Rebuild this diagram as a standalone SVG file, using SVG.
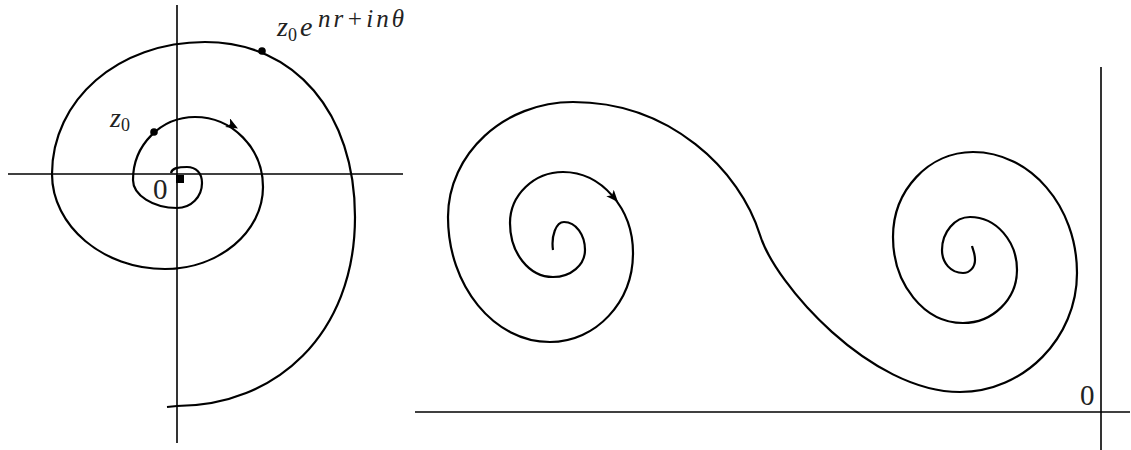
<svg xmlns="http://www.w3.org/2000/svg" width="1131" height="450" viewBox="0 0 1131 450">
<style>
.axis{stroke:#000;stroke-width:1.6;fill:none}
.curve{stroke:#000;stroke-width:2.2;fill:none;stroke-linecap:butt;stroke-linejoin:round}
.lbl{font-family:"Liberation Serif","Times New Roman",serif;fill:#222}
.it{font-style:italic}
.dot{fill:#000}
</style>
<defs>
<marker id="ah" markerUnits="userSpaceOnUse" markerWidth="14" markerHeight="12" refX="12" refY="5" orient="auto">
<path d="M0,0 L12,5 L0,10 L3,5 z" fill="#000" stroke="none"/>
</marker>
</defs>
<rect width="1131" height="450" fill="#fff"/>

<g id="left-figure">
  <g id="left-axes">
    <line class="axis" x1="8" y1="174" x2="403" y2="174"/>
    <line class="axis" x1="177" y1="5" x2="177" y2="443"/>
  </g>
  <g id="left-spiral">
    <path class="curve" d="M171,173 C172,168 178,167 187,167 C196,167 202,173 202,183 C202,197 191,208 177,208 C153,208 133,195 133,180 C133,145 161,117 195,117 C232,117 263,148 263,187 C263,232 219,269 165,269 C103,269 52,226 52,174 C52,100 118,42 205,42 C295,42 355,113 355,217 C355,335 275,406 177,406 L167,407"/>
    <path d="M229,123.5 L238,128.5" fill="none" stroke="none" marker-end="url(#ah)"/>
  </g>
  <g id="left-points">
    <rect class="dot" x="176" y="175" width="8" height="8"/>
    <circle class="dot" cx="154" cy="132" r="3.8"/>
    <circle class="dot" cx="262" cy="51" r="3.8"/>
  </g>
  <g id="left-labels">
    <text class="lbl" x="153" y="199" font-size="29">0</text>
    <text class="lbl" x="110" y="127" font-size="28"><tspan class="it">z</tspan><tspan font-size="18" dy="4">0</tspan></text>
    <text class="lbl" x="277" y="36" font-size="28"><tspan class="it">z</tspan><tspan font-size="18" dy="5">0</tspan><tspan class="it" dx="3" dy="-5">e</tspan></text>
    <text class="lbl it" x="318" y="27" font-size="25" textLength="86">nr+inθ</text>
  </g>
</g>

<g id="right-figure">
  <g id="right-axes">
    <line class="axis" x1="415" y1="412" x2="1130" y2="412"/>
    <line class="axis" x1="1101" y1="67" x2="1101" y2="450"/>
  </g>
  <g id="s-spiral">
    <path class="curve" d="M553,250 C551,236 556,222 564,222 C576,222 585,235 585,250 C585,265 571,277 553,277 C529,277 510,253 510,223 C510,195 534,172 563,172 C601,172 633,208 633,253 C633,302 596,342 550,342 C494,342 448,286 448,217 C448,154 504,102 573,102 C670,102 740,170 760,235 C775,284 870,392 960,392 C1024,392 1077,338 1077,273 C1077,206 1030,152 973,152 C929,152 893,190 893,237 C893,284 924,323 963,323 C993,323 1017,299 1017,270 C1017,241 996,217 970,217 C955,217 942,232 942,250 C942,263 951,273 963,273 C970,273 975,267 975,260 C975,253 973,250 972,246"/>
    <path d="M610,193 L618,202" fill="none" stroke="none" marker-end="url(#ah)"/>
  </g>
  <g id="right-labels">
    <text class="lbl" x="1080" y="405" font-size="29">0</text>
  </g>
</g>
</svg>
